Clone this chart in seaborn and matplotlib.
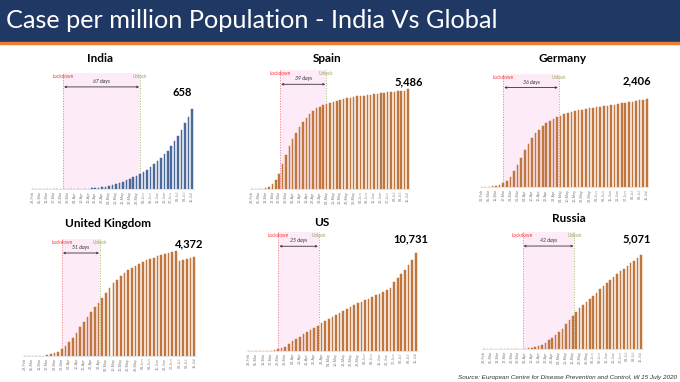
import matplotlib
matplotlib.use("Agg")
import matplotlib.pyplot as plt
import pandas as pd
import seaborn as sns

# bar dates (every 3 days), labels shown on every other bar
dates = ['28-Feb', '02-Mar', '05-Mar', '08-Mar', '11-Mar', '14-Mar', '17-Mar', '20-Mar',
         '23-Mar', '26-Mar', '29-Mar', '01-Apr', '04-Apr', '07-Apr', '10-Apr', '13-Apr',
         '16-Apr', '19-Apr', '22-Apr', '25-Apr', '28-Apr', '01-May', '04-May', '07-May',
         '10-May', '13-May', '16-May', '19-May', '22-May', '25-May', '28-May', '31-May',
         '03-Jun', '06-Jun', '09-Jun', '12-Jun', '15-Jun', '18-Jun', '21-Jun', '24-Jun',
         '27-Jun', '30-Jun', '03-Jul', '06-Jul', '09-Jul', '12-Jul', '15-Jul']

# cases per million population
india = [0, 0, 0, 0, 0, 0, 0, 0, 0, 0,
         0, 0.3, 0.5, 1, 2, 3, 4, 6, 8, 10,
         14, 18, 24, 31, 40, 50, 60, 71, 82, 96,
         110, 123, 140, 159, 181, 203, 230, 258, 285, 315,
         356, 395, 436, 485, 540, 595, 658]
spain = [0, 0, 1, 10, 37, 110, 256, 494, 823, 1353,
         1865, 2341, 2743, 3091, 3420, 3694, 3914, 4097, 4280, 4426,
         4518, 4591, 4646, 4700, 4792, 4847, 4883, 4920, 4975, 5011,
         5048, 5085, 5103, 5121, 5140, 5158, 5194, 5213, 5249, 5286,
         5304, 5322, 5340, 5359, 5377, 5395, 5486]
germany = [0, 0, 9, 18, 36, 64, 100, 173, 282, 428,
           592, 793, 1011, 1184, 1339, 1467, 1567, 1658, 1740, 1804,
           1858, 1904, 1950, 1986, 2022, 2050, 2077, 2095, 2114, 2132,
           2150, 2168, 2177, 2186, 2205, 2214, 2232, 2250, 2268, 2287,
           2305, 2323, 2332, 2350, 2369, 2387, 2406]
uk = [0, 0, 0, 0, 0, 0, 14, 70, 97, 167,
      264, 390, 557, 752, 947, 1197, 1406, 1629, 1837, 2018,
      2199, 2408, 2617, 2826, 3021, 3174, 3313, 3466, 3577, 3675,
      3758, 3842, 3925, 3981, 4037, 4092, 4148, 4190, 4246, 4287,
      4329, 4372, 3967, 3981, 4037, 4065, 4106]
us = [0, 0, 0, 0, 0, 0, 0, 37, 147, 257,
      441, 698, 1029, 1286, 1544, 1801, 2021, 2279, 2499, 2720,
      3014, 3271, 3528, 3749, 3969, 4190, 4410, 4631, 4814, 5035,
      5219, 5402, 5586, 5733, 5917, 6101, 6284, 6468, 6689, 6946,
      7607, 7975, 8416, 8894, 9445, 9996, 10731]
russia = [0, 0, 0, 0, 0, 0, 0, 0, 0, 0,
          0, 0, 18, 36, 72, 125, 161, 233, 340, 466,
          609, 753, 896, 1093, 1326, 1541, 1792, 2007, 2186, 2348,
          2527, 2688, 2867, 3028, 3208, 3387, 3548, 3709, 3871, 4032,
          4175, 4319, 4480, 4605, 4749, 4874, 5071]

countries = ['India', 'Spain', 'Germany', 'United Kingdom', 'US', 'Russia']
series = [india, spain, germany, uk, us, russia]
peak_labels = ['658', '5,486', '2,406', '4,372', '10,731', '5,071']
# lockdown / unlock positions in bar units, and the days between
lockdown_pos = [8.67, 8.3, 6.0, 10.0, 8.1, 11.3]
unlock_pos = [31.0, 21.9, 21.5, 20.4, 19.3, 26.5]
days_labels = ['67 days', '39 days', '36 days', '51 days', '25 days', '42 days']

# layout in pixels: axes box (x0, top, x1, bottom), title pos, ylim top, peak label pos
boxes = [(31, 73, 194, 189), (250, 70, 410, 189), (479.5, 74, 649, 187),
         (22.8, 239, 196.5, 355.7), (246.8, 232, 418, 350.7), (482, 232, 643, 349)]
title_pos = [(100, 59), (327, 59), (563, 59), (108, 224), (322, 223), (569, 218)]
ytops = [954, 6528, 3090, 4873, 13090, 6290]
peak_pos = [(0.93, 0.83), (0.99, 0.90), (0.93, 0.94), (0.96, 0.96), (0.96, 0.94), (0.96, 0.94)]

W, H = 680, 382
sns.set_style("white")
plt.rcParams['font.family'] = ['Lato', 'DejaVu Sans']

fig = plt.figure(figsize=(W / 100, H / 100), dpi=100)
fig.patch.set_facecolor('white')

# header band
fig.patches.append(plt.Rectangle((0, 1 - 42 / H), 1, 42 / H, transform=fig.transFigure,
                                 color='#203864', zorder=0))
fig.patches.append(plt.Rectangle((0, 1 - 44 / H), 1, 2 / H, transform=fig.transFigure,
                                 color='#ED7D31', zorder=0))
fig.text(6 / W, 1 - 21 / H, 'Case per million Population - India Vs Global',
         color='white', fontsize=18.2, va='center', ha='left')

for i, name in enumerate(countries):
    x0, y0, x1, y1 = boxes[i]
    ax = fig.add_axes([x0 / W, 1 - y1 / H, (x1 - x0) / W, (y1 - y0) / H])
    df = pd.DataFrame({'date': dates, 'value': series[i]})
    color = '#4B6A9C' if name == 'India' else '#C0773F'
    sns.barplot(data=df, x='date', y='value', color=color, width=0.45,
                saturation=1, ax=ax, zorder=2, edgecolor=color, linewidth=0.35)
    ax.set_xlim(-0.6, len(dates) - 0.4)
    ax.set_ylim(0, ytops[i])

    lock, unl = lockdown_pos[i], unlock_pos[i]
    ax.axvspan(lock, unl, color='#FDEBF7', zorder=0, lw=0)
    ax.axvline(lock, color='#F08080', ls=':', lw=0.7, zorder=1)
    ax.axvline(unl, color='#A9B56B', ls=':', lw=0.7, zorder=1)
    ax.text(lock, 0.97, 'Lockdown', transform=ax.get_xaxis_transform(),
            color='#FF3030', fontsize=3.3, ha='center', va='center')
    ax.text(unl, 0.97, 'Unlock', transform=ax.get_xaxis_transform(),
            color='#8FA650', fontsize=3.3, ha='center', va='center')
    ax.annotate('', xy=(unl - 0.3, 0.88), xytext=(lock + 0.3, 0.88),
                xycoords=('data', 'axes fraction'),
                arrowprops=dict(arrowstyle='<->', color='#333333', lw=0.6,
                                mutation_scale=3, shrinkA=0, shrinkB=0))
    ax.text((lock + unl) / 2, 0.925, days_labels[i], transform=ax.get_xaxis_transform(),
            color='#333333', fontsize=3.8, style='italic', ha='center', va='center')

    ax.text(peak_pos[i][0], peak_pos[i][1], peak_labels[i], transform=ax.transAxes,
            fontsize=8, fontweight='bold', ha='center', va='center', color='black')

    ax.set_xticks(range(0, len(dates), 2))
    ax.set_xticklabels(dates[::2], rotation=90, fontsize=2.8, color='#808080',
                       family=['Liberation Sans', 'DejaVu Sans'])
    ax.tick_params(axis='x', length=0, pad=1.5)
    ax.set_yticks([])
    ax.set_xlabel('')
    ax.set_ylabel('')
    for s in ['top', 'right', 'left']:
        ax.spines[s].set_visible(False)
    ax.spines['bottom'].set_color('#D9D9D9')
    ax.spines['bottom'].set_linewidth(0.5)
    ax.set_facecolor('none')

    tx, ty = title_pos[i]
    fig.text(tx / W, 1 - ty / H, name, fontsize=8.5, fontweight='bold',
             ha='center', va='center', color='black')

fig.text(677 / W, 1 - 377 / H,
         'Source: European Centre for Disease Prevention and Control, till 15 July 2020',
         fontsize=4.6, style='italic', ha='right', va='center', color='#333333',
         family=['Liberation Sans', 'DejaVu Sans'])

fig.savefig('out.png', dpi=100, facecolor='white')
